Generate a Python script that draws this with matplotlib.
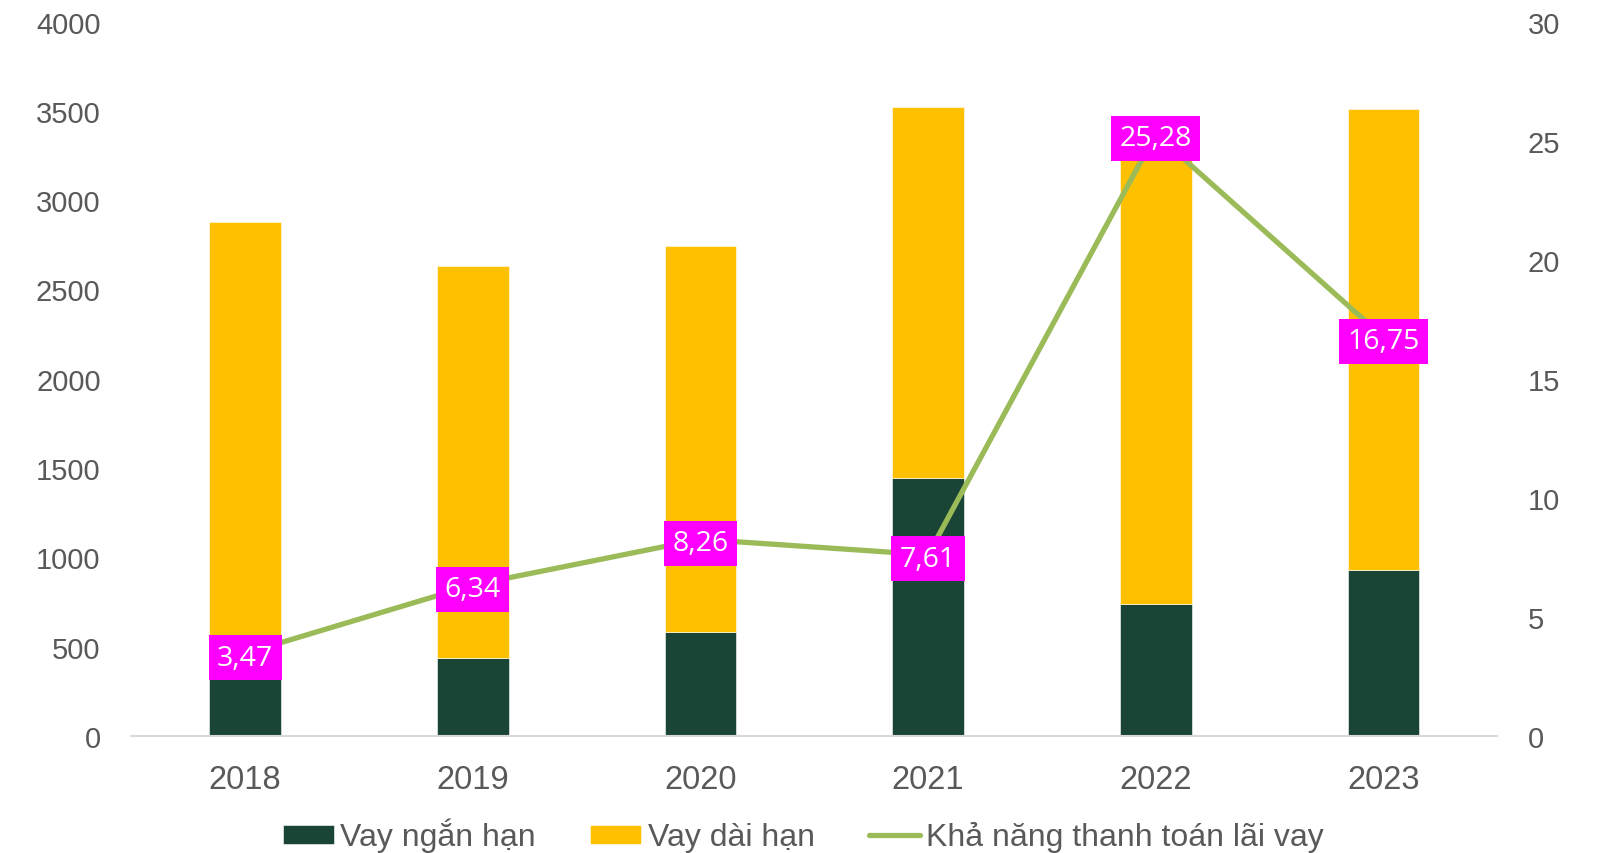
import matplotlib.pyplot as plt
import numpy as np

plt.rcParams['font.family'] = ['Liberation Sans', 'DejaVu Sans']

# Data
years = ['2018', '2019', '2020', '2021', '2022', '2023']
vay_ngan_han = [350, 436, 585, 1446, 740, 930]
vay_dai_han = [2525, 2198, 2158, 2078, 2660, 2582]
kha_nang_tt = [3.47, 6.34, 8.26, 7.61, 25.28, 16.75]

dark_green = '#1A4536'
yellow = '#FFC000'
line_green = '#9BBB59'
grey_text = '#595959'

fig = plt.figure(figsize=(16.07, 8.54), dpi=100)
ax = fig.add_axes([0.0817, 0.137, 0.85, 0.8366])

x = np.arange(len(years))
width = 0.315

ax.bar(x, vay_ngan_han, width, color=dark_green, label='Vay ngắn hạn',
       edgecolor='white', linewidth=0.4, zorder=2)
ax.bar(x, vay_dai_han, width, bottom=vay_ngan_han, color=yellow,
       label='Vay dài hạn', edgecolor='white', linewidth=0.4, zorder=2)

ax.set_xlim(-0.5, len(years) - 0.5)
ax.set_ylim(0, 4000)
ax.set_yticks(np.arange(0, 4001, 500))
ax.set_xticks(x)
ax.set_xticklabels(years)

for side in ['top', 'right', 'left']:
    ax.spines[side].set_visible(False)
ax.spines['bottom'].set_color('#D9D9D9')
ax.spines['bottom'].set_linewidth(1.5)
ax.tick_params(axis='both', length=0, colors=grey_text)
ax.tick_params(axis='x', pad=20, labelsize=23.5)
ax.tick_params(axis='y', pad=22, labelsize=21)

# Secondary axis for the interest coverage line
ax2 = ax.twinx()
ax2.set_ylim(0, 30)
ax2.set_yticks(np.arange(0, 31, 5))
for side in ['top', 'right', 'left', 'bottom']:
    ax2.spines[side].set_visible(False)
ax2.tick_params(axis='y', length=0, labelsize=21, colors=grey_text, pad=22)

line, = ax2.plot(x, kha_nang_tt, color=line_green, linewidth=3.8,
                 label='Khả năng thanh toán lãi vay', zorder=3,
                 solid_capstyle='round')

# Magenta value boxes, nudged a little below the point like the original
for xi, val in zip(x, kha_nang_tt):
    ax2.annotate('{:.2f}'.format(val).replace('.', ','), (xi, val),
                 xytext=(0, -3), textcoords='offset points',
                 ha='center', va='center', fontsize=20.5, color='white',
                 family=['Open Sans', 'DejaVu Sans'], zorder=5,
                 bbox=dict(boxstyle='square,pad=0.3', facecolor='#FF00FF',
                           edgecolor='none'))

handles1, labels1 = ax.get_legend_handles_labels()
fig.legend(handles1 + [line], labels1 + [line.get_label()],
           loc='lower center', bbox_to_anchor=(0.5, -0.033), ncol=3,
           frameon=False, fontsize=23, labelcolor=grey_text,
           handlelength=1.6, handleheight=0.55, handletextpad=0.2,
           columnspacing=1.7)

fig.savefig('out.png', dpi=100)
